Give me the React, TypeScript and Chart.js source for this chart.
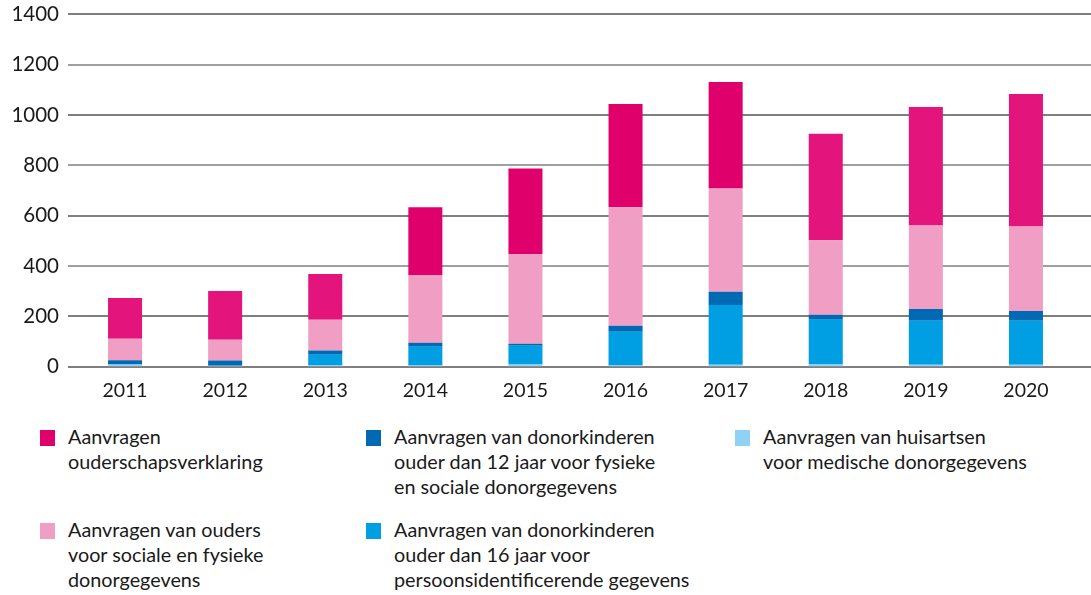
import React, { useEffect, useRef } from "react";
import { Chart, registerables } from "chart.js";

Chart.register(...registerables);

const years = ["2011", "2012", "2013", "2014", "2015", "2016", "2017", "2018", "2019", "2020"];
const huisartsen = [8, 3, 4, 4, 8, 4, 7, 8, 7, 7];
const donor16 = [0, 0, 43, 75, 75, 134, 238, 178, 175, 175];
const donor12 = [17, 21, 17, 16, 8, 24, 52, 20, 47, 39];
const ouders = [86, 83, 122, 269, 356, 471, 411, 296, 332, 336];
const ouderschap = [162, 193, 182, 269, 340, 411, 423, 423, 471, 526];
const yTicks = [0, 200, 400, 600, 800, 1000, 1200, 1400];

const C_MAGENTA = "#e3157c";
const C_MAGENTA2 = "#e0006b";
const C_PINK = "#f09ec4";
const C_DARKBLUE = "#0069b4";
const C_BLUE = "#009fe3";
const C_LIGHTBLUE = "#8fd2f3";

const magentaColors = years.map((y) => (["2014", "2015", "2016", "2017"].includes(y) ? C_MAGENTA2 : C_MAGENTA));

const FONT = "Lato";

const gridPlugin = {
  id: "customGrid",
  beforeDatasetsDraw(chart: any) {
    const ctx = chart.ctx;
    const ys = chart.scales.y;
    const left = chart.chartArea.left - 7;
    const right = chart.width;
    ctx.save();
    yTicks.forEach((v) => {
      const grey = v === 400 || v === 800 || v === 1200;
      const y = Math.round(ys.getPixelForValue(v));
      ctx.beginPath();
      ctx.strokeStyle = grey ? "#7f7f7f" : "#000000";
      ctx.lineWidth = grey ? 1.6 : 1.2;
      ctx.moveTo(left, y);
      ctx.lineTo(right, y);
      ctx.stroke();
    });
    ctx.restore();
  },
};

type LegendItem = { color: string; lines: string[]; left: number; top: number };
const legendItems: LegendItem[] = [
  { color: C_MAGENTA2, lines: ["Aanvragen", "ouderschapsverklaring"], left: 40, top: 430 },
  { color: C_DARKBLUE, lines: ["Aanvragen van donorkinderen", "ouder dan 12 jaar voor fysieke", "en sociale donorgegevens"], left: 366, top: 430 },
  { color: C_LIGHTBLUE, lines: ["Aanvragen van huisartsen", "voor medische donorgegevens"], left: 735, top: 430 },
  { color: C_PINK, lines: ["Aanvragen van ouders", "voor sociale en fysieke", "donorgegevens"], left: 40, top: 523 },
  { color: C_BLUE, lines: ["Aanvragen van donorkinderen", "ouder dan 16 jaar voor", "persoonsidentificerende gegevens"], left: 366, top: 523 },
];

export default function App() {
  const canvasRef = useRef<HTMLCanvasElement | null>(null);

  useEffect(() => {
    if (!canvasRef.current) return;
    const ds = (label: string, data: number[], color: any) => ({
      label,
      data,
      backgroundColor: color,
      borderWidth: 0,
      barPercentage: 0.34,
      categoryPercentage: 1,
    });
    const chart = new Chart(canvasRef.current, {
      type: "bar",
      data: {
        labels: years,
        datasets: [
          ds("Aanvragen van huisartsen voor medische donorgegevens", huisartsen, C_LIGHTBLUE),
          ds("Aanvragen van donorkinderen ouder dan 16 jaar voor persoonsidentificerende gegevens", donor16, C_BLUE),
          ds("Aanvragen van donorkinderen ouder dan 12 jaar voor fysieke en sociale donorgegevens", donor12, C_DARKBLUE),
          ds("Aanvragen van ouders voor sociale en fysieke donorgegevens", ouders, C_PINK),
          ds("Aanvragen ouderschapsverklaring", ouderschap, magentaColors),
        ],
      },
      options: {
        animation: false,
        responsive: false,
        maintainAspectRatio: false,
        layout: { padding: { top: 0, right: 15, left: 0, bottom: 0 } },
        plugins: {
          legend: { display: false },
          tooltip: { enabled: false },
        },
        scales: {
          x: {
            stacked: true,
            grid: { display: false },
            border: { display: false },
            ticks: {
              color: "#1a1a1a",
              font: { family: FONT, size: 19.5 },
              padding: 4,
              maxRotation: 0,
            },
          },
          y: {
            stacked: true,
            min: 0,
            max: 1400,
            grid: { display: false },
            border: { display: false },
            afterFit: (scale: any) => {
              scale.width = 75;
            },
            afterBuildTicks: (scale: any) => {
              scale.ticks = yTicks.map((v) => ({ value: v }));
            },
            ticks: {
              color: "#1a1a1a",
              font: { family: FONT, size: 20.5 },
              padding: 8,
              callback: (v: any) => String(v),
            },
          },
        },
      },
      plugins: [gridPlugin],
    });
    return () => chart.destroy();
  }, []);

  return (
    <div style={{ position: "fixed", left: 0, top: 0, width: 1091, height: 595, background: "#fff", overflow: "hidden" }}>
      <canvas ref={canvasRef} width={1091} height={412} style={{ position: "absolute", left: 0, top: -6, width: 1091, height: 412 }} />
      {legendItems.map((it, i) => (
        <div key={i} style={{ position: "absolute", left: it.left, top: it.top }}>
          <div style={{ position: "absolute", left: 0, top: 0, width: 15, height: 16, background: it.color }} />
          <div
            style={{
              position: "absolute",
              left: 28,
              top: -6,
              whiteSpace: "nowrap",
              fontFamily: FONT,
              fontSize: 19.8,
              lineHeight: "25px",
              color: "#1a1a1a",
            }}
          >
            {it.lines.map((l, j) => (
              <div key={j}>{l}</div>
            ))}
          </div>
        </div>
      ))}
    </div>
  );
}
